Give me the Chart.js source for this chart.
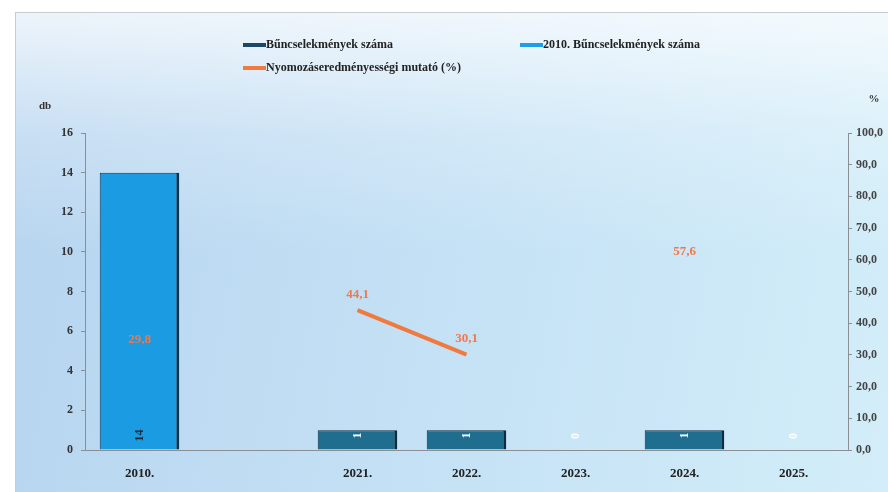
<!DOCTYPE html>
<html>
<head>
<meta charset="utf-8">
<script src="https://cdn.jsdelivr.net/npm/chart.js@4"></script>
<style>
  body { margin: 0; background: #fff; }
  #wrap { position: relative; width: 888px; height: 492px; overflow: hidden; }
  #panel {
    position: absolute; left: 15px; top: 12px; right: -2px; bottom: -2px;
    border-left: 1px solid #c8ccd0; border-top: 1px solid #c8ccd0;
    background:
      linear-gradient(180deg, rgba(255,255,255,0.75) 0%, rgba(255,255,255,0.25) 25%, rgba(255,255,255,0) 50%),
      linear-gradient(100deg, #b6d4ef 0%, #c4e1f5 50%, #d3eef9 100%);
  }
  #myChart { position: absolute; left: 0; top: 0; }
  #legend {
    position: absolute; left: 243px; top: 37px;
    display: grid; grid-template-columns: 277px auto; row-gap: 8px;
    font: bold 12px "Liberation Serif", serif; color: #222;
  }
  #legend .item { display: flex; align-items: center; white-space: nowrap; }
  #legend .mark { display: inline-block; width: 23px; height: 4px; }
</style>
</head>
<body>
<div id="wrap">
  <div id="panel"></div>
  <canvas id="myChart" width="888" height="492"></canvas>
  <div id="legend"></div>
</div>
<script>
// Chart values
var years = ['2010.', '', '2021.', '2022.', '2023.', '2024.', '2025.'];
var crimes = [null, null, 1, 1, 0, 1, 0];
var crimes2010 = [14, null, null, null, null, null, null];
var clearanceRate = [29.8, null, 44.1, 30.1, null, 57.6, null];

function fmt(v) {
  return v.toFixed(1).replace('.', ',');
}

// Draws the value labels and the axis units
var labelPlugin = {
  id: 'valueLabels',
  afterDatasetsDraw: function (chart) {
    var ctx = chart.ctx;
    chart.data.datasets.forEach(function (ds, i) {
      var meta = chart.getDatasetMeta(i);
      meta.data.forEach(function (el, j) {
        var v = ds.data[j];
        if (v === null || v === undefined) return;
        ctx.save();
        if (ds.type === 'line') {
          ctx.font = 'bold 13px "Liberation Serif"';
          ctx.fillStyle = '#f0784a';
          ctx.textAlign = 'center';
          ctx.textBaseline = 'bottom';
          ctx.fillText(fmt(v), el.x, el.y - 9);
        } else {
          ctx.translate(el.x, el.base - 14);
          ctx.rotate(-Math.PI / 2);
          ctx.font = 'bold 12px "Liberation Serif"';
          ctx.fillStyle = ds.labelColor;
          ctx.textAlign = 'center';
          ctx.textBaseline = 'middle';
          ctx.fillText(String(v), 0, 0);
        }
        ctx.restore();
      });
    });

    var area = chart.chartArea;
    ctx.save();
    ctx.font = 'bold 11px "Liberation Serif"';
    ctx.fillStyle = '#333';
    ctx.textAlign = 'center';
    ctx.fillText('db', area.left - 40, area.top - 24);
    ctx.fillText('%', area.right + 26, area.top - 31);
    ctx.restore();
  }
};

var tickFont = { family: 'Liberation Serif', size: 12, weight: 'bold' };

var ctx = document.getElementById('myChart').getContext('2d');
var myChart = new Chart(ctx, {
  type: 'bar',
  data: {
    labels: years,
    datasets: [
      {
        label: 'Bűncselekmények száma',
        data: crimes,
        backgroundColor: '#1f6e90',
        borderColor: '#0c2c40',
        borderWidth: { top: 1, left: 1, right: 3, bottom: 0 },
        borderSkipped: false,
        labelColor: '#ffffff',
        legendColor: '#1c4868',
        yAxisID: 'y',
        order: 2
      },
      {
        label: '2010. Bűncselekmények száma',
        data: crimes2010,
        backgroundColor: '#1b9be2',
        borderColor: '#0c3450',
        borderWidth: { top: 1, left: 1, right: 3, bottom: 0 },
        borderSkipped: false,
        labelColor: '#1a2a38',
        legendColor: '#1e9de8',
        yAxisID: 'y',
        order: 2
      },
      {
        type: 'line',
        label: 'Nyomozáseredményességi mutató (%)',
        data: clearanceRate,
        borderColor: '#f07a3e',
        borderWidth: 4,
        borderCapStyle: 'butt',
        pointRadius: 0,
        spanGaps: false,
        legendColor: '#f07a3e',
        yAxisID: 'y1',
        order: 1
      }
    ]
  },
  options: {
    responsive: false,
    animation: false,
    layout: { padding: { top: 133, left: 0, right: 0, bottom: 0 } },
    datasets: {
      bar: { grouped: false, categoryPercentage: 1, barPercentage: 0.73 }
    },
    plugins: {
      legend: { display: false },
      tooltip: { enabled: false }
    },
    scales: {
      x: {
        grid: { display: false },
        border: { color: '#8a8f94', width: 1 },
        ticks: { color: '#222', font: { family: 'Liberation Serif', size: 13, weight: 'bold' }, padding: 8 },
        afterFit: function (s) { s.height = 42; }
      },
      y: {
        position: 'left',
        min: 0,
        max: 16,
        ticks: { stepSize: 2, color: '#333', font: tickFont, padding: 8 },
        grid: { drawOnChartArea: false, drawTicks: true, tickLength: 4, color: '#8a8f94' },
        border: { color: '#8a8f94', width: 1 },
        afterFit: function (s) { s.width = 85; }
      },
      y1: {
        position: 'right',
        min: 0,
        max: 100,
        ticks: {
          stepSize: 10,
          color: '#444',
          font: tickFont,
          padding: 4,
          callback: function (v) { return fmt(v); }
        },
        grid: { drawOnChartArea: false, drawTicks: true, tickLength: 4, color: '#8a8f94' },
        border: { color: '#8a8f94', width: 1 },
        afterFit: function (s) { s.width = 40; }
      }
    }
  },
  plugins: [labelPlugin]
});

// HTML legend built from the datasets
var legend = document.getElementById('legend');
myChart.data.datasets.forEach(function (ds) {
  var item = document.createElement('div');
  item.className = 'item';
  var mark = document.createElement('span');
  mark.className = 'mark';
  mark.style.background = ds.legendColor;
  item.appendChild(mark);
  item.appendChild(document.createTextNode(ds.label));
  legend.appendChild(item);
});
</script>
</body>
</html>
